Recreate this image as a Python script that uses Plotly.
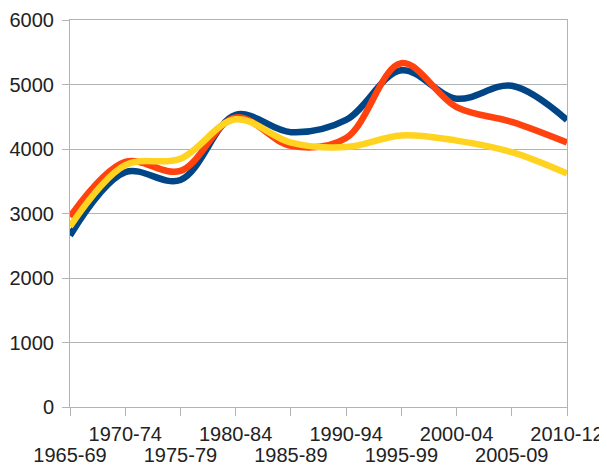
import plotly.graph_objects as go

categories = ["1965-69", "1970-74", "1975-79", "1980-84", "1985-89",
              "1990-94", "1995-99", "2000-04", "2005-09", "2010-12"]
series_blue = [2660, 3640, 3520, 4530, 4260, 4450, 5220, 4780, 4980, 4450]
series_red = [2950, 3800, 3660, 4490, 4050, 4170, 5330, 4650, 4420, 4100]
series_yellow = [2800, 3750, 3850, 4460, 4100, 4030, 4210, 4130, 3950, 3620]
y_ticks = [0, 1000, 2000, 3000, 4000, 5000, 6000]

colors = ["#004586", "#ff420e", "#ffd320"]
idx = list(range(len(categories)))

fig = go.Figure()
for vals, c in zip([series_blue, series_red, series_yellow], colors):
    fig.add_trace(go.Scatter(
        x=idx, y=vals, mode="lines",
        line=dict(color=c, width=6.5, shape="spline", smoothing=1.0),
        showlegend=False, hoverinfo="skip"))

# staggered category labels: odd positions on the first row, even on the second
row1_text = [c if i % 2 == 1 else "" for i, c in enumerate(categories)]
row2_vals = [i for i in idx if i % 2 == 0]
row2_text = [categories[i] for i in row2_vals]

# invisible helper trace so the second x axis is drawn
fig.add_trace(go.Scatter(x=[0, 9], y=[None, None], xaxis="x2", yaxis="y",
                         mode="lines", showlegend=False, hoverinfo="skip"))

fig.update_layout(
    width=599, height=460,
    margin=dict(l=62, r=40, t=12, b=61, autoexpand=False),
    paper_bgcolor="white", plot_bgcolor="white",
    font=dict(family="Liberation Sans, Arial, sans-serif", size=20, color="#222222"),
    xaxis=dict(
        range=[0, 9], tickmode="array", tickvals=idx, ticktext=row1_text,
        showgrid=False, zeroline=False, showline=True, linecolor="#b3b3b3", linewidth=1,
        mirror=True, ticks="outside", ticklen=8, tickcolor="#b3b3b3", tickwidth=1,
        tickangle=0, ticklabelstandoff=1, automargin=False,
    ),
    xaxis2=dict(
        range=[0, 9], overlaying="x", side="bottom", anchor="y",
        tickmode="array", tickvals=row2_vals, ticktext=row2_text,
        showgrid=False, zeroline=False, showline=False, ticks="",
        tickangle=0, ticklabelstandoff=34, automargin=False,
    ),
    yaxis=dict(
        range=[0, 6000], tickmode="array", tickvals=y_ticks,
        showgrid=True, gridcolor="#b3b3b3", gridwidth=1, zeroline=False,
        showline=True, linecolor="#b3b3b3", linewidth=1, mirror=True,
        ticks="outside", ticklen=7, tickcolor="#b3b3b3", tickwidth=1,
        ticklabelstandoff=4, automargin=False,
    ),
)

fig.write_html("out.html")
